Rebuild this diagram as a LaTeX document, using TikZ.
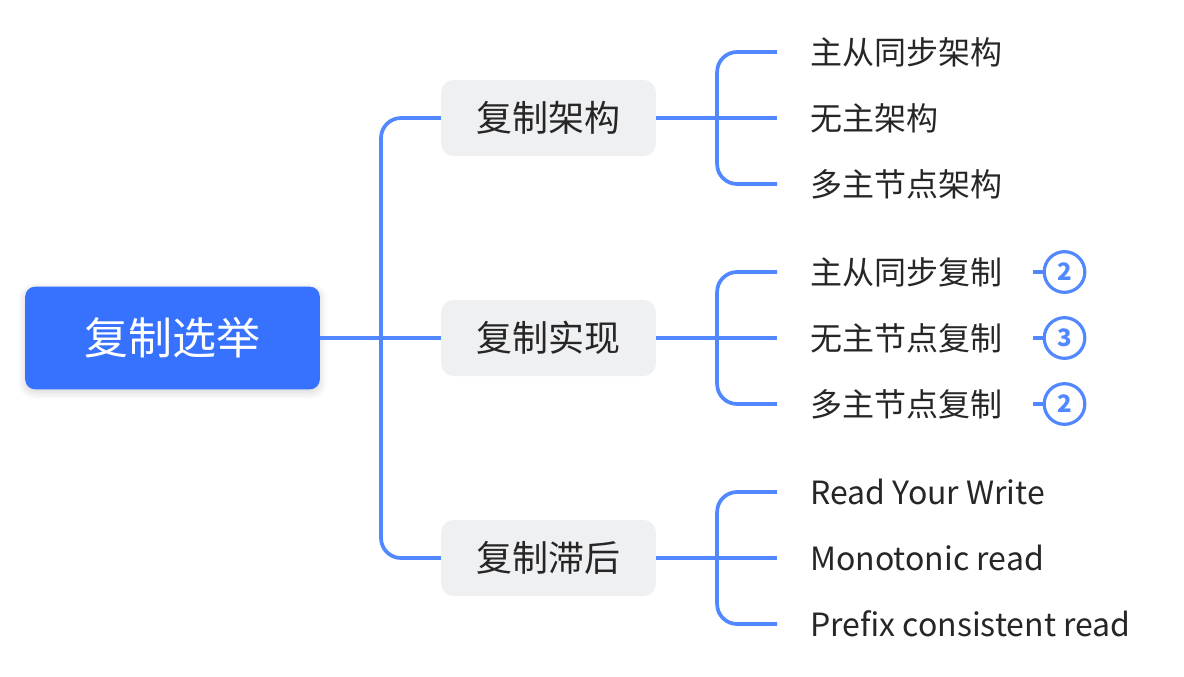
\documentclass[tikz,border=0pt]{standalone}
\usepackage{fontspec}
\setmainfont{Noto Sans CJK SC}
\usetikzlibrary{calc,shadows.blur}
\definecolor{rootblue}{HTML}{3772FF}
\definecolor{linkblue}{HTML}{5288FF}
\definecolor{boxgray}{HTML}{EFF0F2}
\definecolor{txt}{HTML}{262626}
\tikzset{
  rootbox/.style={fill=rootblue, rounded corners=7.5pt, minimum width=221pt, minimum height=77pt, text=white, font=\fontsize{33}{36}\selectfont, inner sep=0pt, blur shadow={shadow xshift=0pt, shadow yshift=-2pt, shadow blur radius=6pt, shadow opacity=18, shadow blur steps=8}},
  midbox/.style={fill=boxgray, rounded corners=9pt, minimum width=161pt, minimum height=57pt, text=txt, font=\fontsize{27}{30}\selectfont, inner sep=0pt},
  leaftxt/.style={anchor=west, text=txt, font=\fontsize{24}{28}\selectfont, inner sep=0pt},
  conn/.style={draw=linkblue, line width=2.8pt, rounded corners=15pt},
  badge/.style={circle, draw=linkblue, line width=2.4pt, minimum size=30.5pt, inner sep=0pt, text=linkblue, font=\fontsize{18}{20}\selectfont\bfseries, fill=white},
}
\begin{document}
\begin{tikzpicture}[x=0.75pt,y=-0.75pt]
\useasboundingbox (0,0) rectangle (1184,676);
\node[rootbox] (root) at (172.5,338) {复制选举};
\node[midbox] (b1) at (548.5,118) {复制架构};
\node[midbox] (b2) at (548.5,338) {复制实现};
\node[midbox] (b3) at (548.5,558) {复制滞后};
% root connectors
\coordinate (sp) at (381,338);
\draw[conn] (root.east) -- (b2.west);
\draw[conn] (sp) |- (b1.west);
\draw[conn] (sp) |- (b3.west);
% leaves
\foreach \b/\y/\n/\t in {b1/52/l1/主从同步架构, b1/118/l2/无主架构, b1/184/l3/多主节点架构,
  b2/272/l4/主从同步复制, b2/338/l5/无主节点复制, b2/404/l6/多主节点复制,
  b3/492/l7/Read Your Write, b3/558/l8/Monotonic read, b3/624/l9/Prefix consistent read}{
  \coordinate (\n c) at (777,\y);
  \node[leaftxt] (\n) at (810,\y) {\t};
}
\foreach \b/\a/\m/\z in {b1/l1/l2/l3, b2/l4/l5/l6, b3/l7/l8/l9}{
  \coordinate (\b s) at ($(\b.east)+(61,0)$);
  \draw[conn] (\b.east) -- (\m c);
  \draw[conn] (\b s) |- (\a c);
  \draw[conn] (\b s) |- (\z c);
}
% badges
\foreach \n/\y/\v in {l4/272/2, l5/338/3, l6/404/2}{
  \node[badge] (\n b) at (1064.5,\y) {\v};
  \coordinate (\n bs) at (1033,\y);
  \draw[draw=linkblue, line width=2.8pt] (\n bs) -- (\n b.west);
}
\end{tikzpicture}
\end{document}
